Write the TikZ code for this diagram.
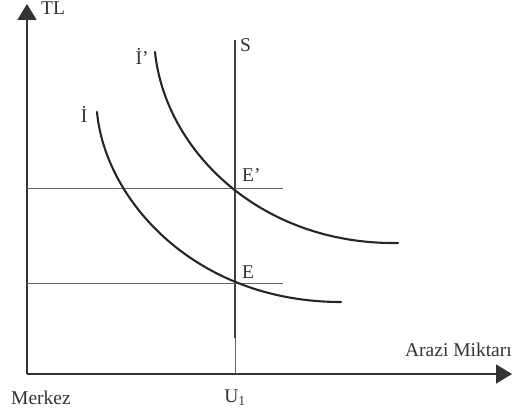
\documentclass[tikz,border=0pt]{standalone}
\usepackage{fontspec}
\setmainfont{Liberation Serif}
\usetikzlibrary{arrows.meta}
\begin{document}
\begin{tikzpicture}[x=1pt,y=-1pt,
  axisline/.style={line width=1.8pt,draw=black!80},
  curve/.style={line width=2.1pt,black!85,line cap=round},
  guide/.style={line width=0.9pt,black!60},
  lbl/.style={font=\fontsize{19.5}{21}\selectfont,text=black!80,inner sep=0pt}]
\useasboundingbox (0,0) rectangle (524,414);
\coordinate (O) at (27,374);
\coordinate (Ytop) at (27,4);
\coordinate (Xend) at (512,374);
\draw[axisline,-{Triangle[length=16pt,width=19pt]}] (O) -- (Ytop);
\draw[axisline,-{Triangle[length=16pt,width=19pt]}] (O) -- (Xend);
% S line
\coordinate (Stop) at (235,40);
\coordinate (Smid) at (235,338);
\coordinate (U) at (235,374);
\draw[line width=2.2pt,black!75] (Stop) -- (Smid);
\draw[line width=1pt,black!60] (Smid) -- (U);
% horizontal guides
\coordinate (H1a) at (27,188);
\coordinate (H1b) at (283,188);
\coordinate (H0a) at (27,283);
\coordinate (H0b) at (283,283);
\draw[guide] (H1a) -- (H1b);
\draw[guide] (H0a) -- (H0b);
% curves
\coordinate (Ip0) at (155,52);
\coordinate (Ip3) at (398,243);
\coordinate (I0) at (97,112);
\coordinate (I3) at (341,302);
\draw[curve] (Ip0) .. controls (165,150) and (260,245) .. (Ip3);
\draw[curve] (I0) .. controls (105,200) and (195,302) .. (I3);
% labels
\node[lbl,anchor=base west] (TL) at (41,15) {TL};
\node[lbl,anchor=base west] (S) at (240,52) {S};
\node[lbl,anchor=base] (Ip) at (142,65) {İ’};
\node[lbl,anchor=base] (I) at (84,123) {İ};
\node[lbl,anchor=base west] (Ep) at (242,182) {E’};
\node[lbl,anchor=base west] (E) at (242,278) {E};
\node[lbl,anchor=base east] (AM) at (512,356) {Arazi Miktarı};
\node[lbl,anchor=base west] (M) at (11,404) {Merkez};
\node[lbl,anchor=base] (U1) at (235,402) {U\textsubscript{1}};
\end{tikzpicture}
\end{document}
